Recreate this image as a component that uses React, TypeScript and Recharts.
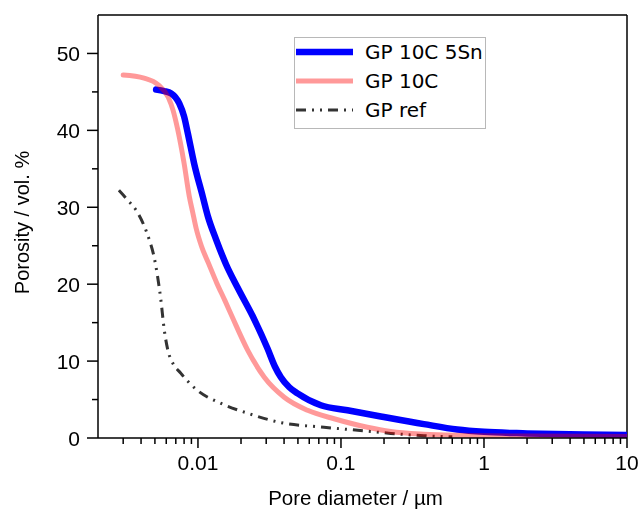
import React from 'react';
import { LineChart, Line, XAxis, YAxis, ReferenceLine } from 'recharts';

// GP 10C 5Sn
const snDiameter = [0.0051, 0.0058, 0.0065, 0.0074, 0.008, 0.0085, 0.0094, 0.0108, 0.0117, 0.0134, 0.0157, 0.019, 0.0248, 0.0307, 0.0345, 0.038, 0.0435, 0.0497, 0.0723, 0.111, 0.19, 0.38, 0.65, 1.0, 2.0, 5.0, 10];
const snPorosity = [45.3, 45.1, 44.8, 43.5, 41.8, 39.6, 35.7, 31.4, 28.9, 25.8, 22.6, 19.5, 15.4, 11.6, 9.3, 7.9, 6.6, 5.8, 4.25, 3.6, 2.8, 1.8, 1.1, 0.8, 0.6, 0.45, 0.4];

// GP 10C
const cDiameter = [0.003, 0.0042, 0.0053, 0.0062, 0.0067, 0.0072, 0.008, 0.0087, 0.0092, 0.0097, 0.0106, 0.0118, 0.0135, 0.0155, 0.0175, 0.0223, 0.0291, 0.0401, 0.0584, 0.0895, 0.153, 0.223, 0.38, 0.65, 1.0, 2.0, 10];
const cPorosity = [47.2, 46.8, 45.9, 44.3, 42.6, 40.2, 35.7, 31.4, 29.3, 27.3, 24.9, 22.8, 20.2, 17.8, 15.6, 11.4, 7.9, 5.3, 3.6, 2.5, 1.4, 0.85, 0.5, 0.35, 0.3, 0.25, 0.2];

// GP ref
const refDiameter = [0.0028, 0.0032, 0.0037, 0.0042, 0.0046, 0.0049, 0.0052, 0.0055, 0.0058, 0.0062, 0.0066, 0.0076, 0.0099, 0.0145, 0.0224, 0.038, 0.076, 0.131, 0.223, 0.38, 0.6];
const refPorosity = [32.2, 31.0, 29.6, 27.6, 25.6, 23.8, 21.2, 18.0, 14.2, 11.2, 9.9, 8.4, 6.2, 4.5, 3.2, 2.0, 1.4, 1.0, 0.6, 0.3, 0.15];

const xMajorTicks = [0.01, 0.1, 1, 10];
const xMinorTicks = [
  0.003, 0.004, 0.005, 0.006, 0.007, 0.008, 0.009,
  0.02, 0.03, 0.04, 0.05, 0.06, 0.07, 0.08, 0.09,
  0.2, 0.3, 0.4, 0.5, 0.6, 0.7, 0.8, 0.9,
  2, 3, 4, 5, 6, 7, 8, 9,
];
const yMajorTicks = [0, 10, 20, 30, 40, 50];
const yMinorTicks = [5, 15, 25, 35, 45];

const seriesNames = ['GP 10C 5Sn', 'GP 10C', 'GP ref'];

const zip = (xs: number[], ys: number[]) => xs.map((x, i) => ({ x, y: ys[i] }));
const snData = zip(snDiameter, snPorosity);
const cData = zip(cDiameter, cPorosity);
const refData = zip(refDiameter, refPorosity);

const allXTicks = [...xMajorTicks, ...xMinorTicks].sort((a, b) => a - b);
const allYTicks = [...yMajorTicks, ...yMinorTicks].sort((a, b) => a - b);

const FONT = '"Liberation Sans", Arial, sans-serif';
const BLUE = '#0000FF';
const RED = '#FF0000';
const GREY = '#333333';
const DASH = '10 6 2 6 2 6';

const isMajorX = (v: number) => xMajorTicks.some((m) => Math.abs(m - v) / m < 1e-6);

const XTick = (props: any) => {
  const { x, y, payload } = props;
  const v = payload.value;
  const major = isMajorX(v);
  return (
    <g>
      <line x1={x} x2={x} y1={y} y2={y + (major ? 10 : 6)} stroke="#000" strokeWidth={1.5} />
      {major && (
        <text x={x} y={y + 32} textAnchor="middle" fontSize={21} fontFamily={FONT} fill="#000">
          {String(v)}
        </text>
      )}
    </g>
  );
};

const YTick = (props: any) => {
  const { x, y, payload } = props;
  const v = payload.value;
  const major = yMajorTicks.includes(v);
  return (
    <g>
      <line x1={x - (major ? 11 : 6)} x2={x} y1={y} y2={y} stroke="#000" strokeWidth={1.5} />
      {major && (
        <text x={x - 18} y={y + 7.5} textAnchor="end" fontSize={21} fontFamily={FONT} fill="#000">
          {String(v)}
        </text>
      )}
    </g>
  );
};

const XTitle = (props: any) => {
  const vb = props.viewBox || { x: 98, y: 438, width: 529 };
  return (
    <text x={vb.x + vb.width / 2 - 7} y={vb.y + 67} textAnchor="middle" fontSize={20.5} fontFamily={FONT} fill="#000">
      Pore diameter / µm
    </text>
  );
};

const YTitle = (props: any) => {
  const vb = props.viewBox || { x: 0, y: 15, width: 98, height: 423 };
  const cx = 29;
  const cy = vb.y + vb.height / 2 - 4;
  return (
    <text x={cx} y={cy} transform={`rotate(-90 ${cx} ${cy})`} textAnchor="middle" fontSize={20} fontFamily={FONT} fill="#000">
      Porosity / vol. %
    </text>
  );
};

const LegendBox = () => (
  <svg width={192} height={92} style={{ position: 'absolute', left: 294, top: 37 }}>
    <rect x={0.5} y={0.5} width={191} height={91} fill="#fff" stroke="#b8b8b8" strokeWidth={1} />
    <line x1={2} x2={59} y1={15} y2={15} stroke={BLUE} strokeWidth={6.5} />
    <line x1={2} x2={59} y1={44} y2={44} stroke={RED} strokeOpacity={0.4} strokeWidth={5} />
    <line x1={2} x2={59} y1={73} y2={73} stroke={GREY} strokeWidth={3} strokeDasharray={DASH} />
    {seriesNames.map((n, i) => (
      <text key={n} x={71} y={22 + i * 29} fontSize={20} fontFamily='"DejaVu Sans", sans-serif' fill="#000">
        {n}
      </text>
    ))}
  </svg>
);

export default function App() {
  return (
    <div style={{ position: 'fixed', left: 0, top: 0, width: 639, height: 516, overflow: 'visible' }}>
      <LineChart width={639} height={516} margin={{ top: 15, right: 12, bottom: 0, left: 0 }} style={{ overflow: 'visible' }}>
        <XAxis
          dataKey="x"
          type="number"
          scale="log"
          domain={[0.002, 10]}
          allowDataOverflow
          ticks={allXTicks}
          interval={0}
          tickSize={0}
          tickMargin={0}
          tick={<XTick />}
          height={78}
          axisLine={{ stroke: '#000', strokeWidth: 1.5 }}
          tickLine={false}
          label={<XTitle />}
        />
        <YAxis
          type="number"
          domain={[0, 55]}
          allowDataOverflow
          ticks={allYTicks}
          interval={0}
          tickSize={0}
          tickMargin={0}
          tick={<YTick />}
          width={98}
          axisLine={{ stroke: '#000', strokeWidth: 1.5 }}
          tickLine={false}
          label={<YTitle />}
        />
        <ReferenceLine y={55} stroke="#000" strokeWidth={1.5} />
        <ReferenceLine x={10} stroke="#000" strokeWidth={1.5} />
        <Line
          data={refData}
          dataKey="y"
          name={seriesNames[2]}
          type="monotone"
          stroke={GREY}
          strokeWidth={3}
          strokeDasharray={DASH}
          dot={false}
          activeDot={false}
          isAnimationActive={false}
        />
        <Line
          data={snData}
          dataKey="y"
          name={seriesNames[0]}
          type="monotone"
          stroke={BLUE}
          strokeWidth={6.5}
          strokeLinecap="round"
          strokeLinejoin="round"
          dot={false}
          activeDot={false}
          isAnimationActive={false}
        />
        <Line
          data={cData}
          dataKey="y"
          name={seriesNames[1]}
          type="monotone"
          stroke={RED}
          strokeOpacity={0.4}
          strokeWidth={5}
          strokeLinecap="round"
          strokeLinejoin="round"
          dot={false}
          activeDot={false}
          isAnimationActive={false}
        />
      </LineChart>
      <LegendBox />
    </div>
  );
}
